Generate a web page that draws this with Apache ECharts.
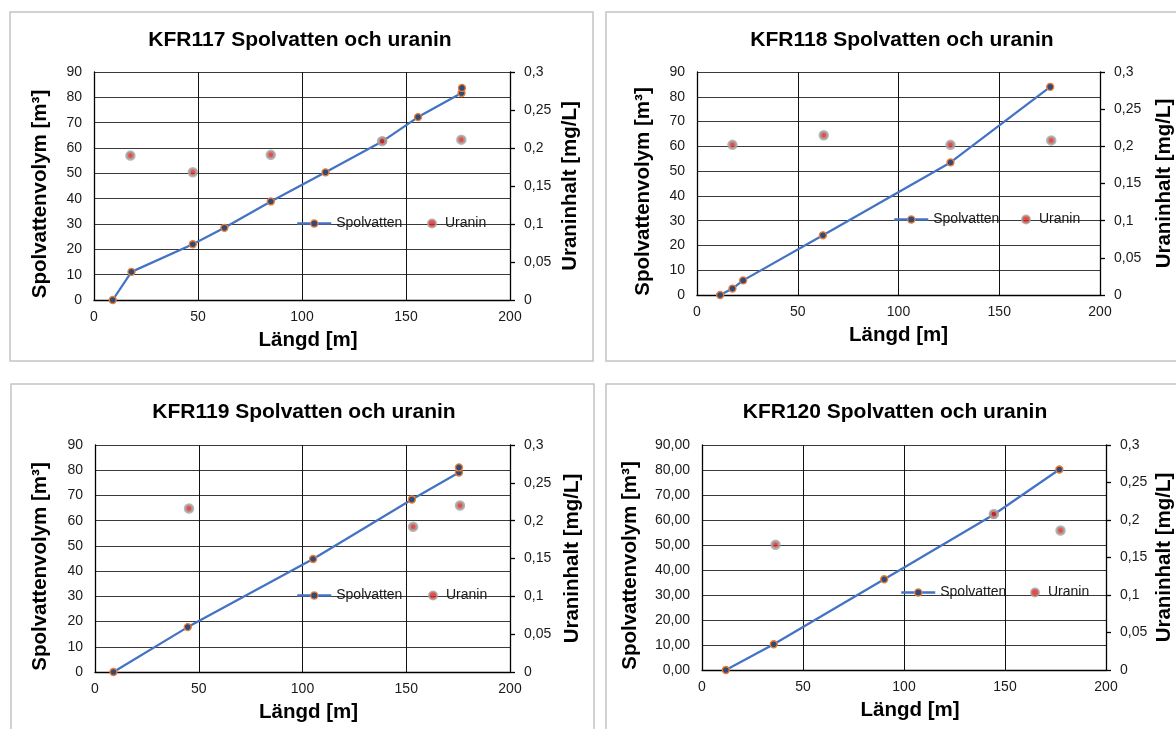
<!DOCTYPE html>
<html><head><meta charset="utf-8">
<script src="https://cdn.jsdelivr.net/npm/echarts@6/dist/echarts.min.js"></script>
<style>html,body{margin:0;padding:0;background:#fff}#c{width:1176px;height:729px}</style>
</head><body><div id="c"></div>
<script>
// ---------- data ----------
const titles = ['KFR117 Spolvatten och uranin', 'KFR118 Spolvatten och uranin', 'KFR119 Spolvatten och uranin', 'KFR120 Spolvatten och uranin'];
const seriesNames = ['Spolvatten', 'Uranin'];
const xAxisName = 'Längd [m]';
const leftAxisName = 'Spolvattenvolym [m³]';
const rightAxisName = 'Uraninhalt [mg/L]';

const spLength117 = [9, 18, 47.5, 62.7, 85, 111.3, 139, 155.8, 176.7, 176.9];
const spVolume117 = [0, 11.1, 22.0, 28.5, 38.9, 50.4, 62.8, 72.2, 81.7, 83.7];
const urLength117 = [17.5, 47.5, 85, 138.5, 176.6];
const urConc117 = [0.190, 0.168, 0.191, 0.209, 0.211];

const spLength118 = [11.5, 17.6, 22.9, 62.5, 125.8, 175.3];
const spVolume118 = [0, 2.6, 5.9, 24.1, 53.5, 84.0];
const urLength118 = [17.6, 62.9, 125.8, 175.8];
const urConc118 = [0.202, 0.215, 0.202, 0.208];

const spLength119 = [8.9, 44.7, 105.1, 152.7, 175.4, 175.4];
const spVolume119 = [0, 17.8, 44.8, 68.4, 79.1, 81.1];
const urLength119 = [45.3, 153.3, 175.9];
const urConc119 = [0.216, 0.192, 0.220];

const spLength120 = [11.8, 35.5, 90.2, 144.3, 176.9];
const spVolume120 = [0, 10.3, 36.3, 62.1, 80.2];
const urLength120 = [36.4, 144.5, 177.5];
const urConc120 = [0.167, 0.208, 0.186];

const xTickRange = [0, 200, 50];
const leftTickRange = [0, 90, 10];
const rightTickRange = [0, 0.3, 0.05];
const leftDecimals = [0, 0, 0, 2];

const panels = [
  {sx: spLength117, sy: spVolume117, ux: urLength117, uy: urConc117},
  {sx: spLength118, sy: spVolume118, ux: urLength118, uy: urConc118},
  {sx: spLength119, sy: spVolume119, ux: urLength119, uy: urConc119},
  {sx: spLength120, sy: spVolume120, ux: urLength120, uy: urConc120}
];

// ---------- layout ----------
const grids = [
  {left: 94, top: 72, width: 416, height: 228},
  {left: 697, top: 72, width: 405, height: 223},
  {left: 95, top: 445, width: 415, height: 227},
  {left: 702, top: 445, width: 409, height: 225}
];
const titlePos = [[300, 40], [902, 40], [304, 412], [895, 412]];
const leftNameGap = [43, 43, 44, 61];
const rightNameGap = [50, 54, 52, 48];
const xNameShift = [12, 0, 12, 12];
const legendSp = [[296, 221], [893, 217], [296, 593], [900, 590]];
const legendUr = [[427, 221], [1021, 217], [428, 593], [1030, 590]];
const frames = [[10, 12, 583, 349], [606, 12, 600, 349], [11, 384, 583, 400], [606, 384, 600, 400]];

const FONT = '"Liberation Sans", Arial, Helvetica, sans-serif';
const comma = (v, d) => (d == null ? String(+(+v).toFixed(3)) : (+v).toFixed(d)).replace('.', ',');

const option = {
  animation: false,
  backgroundColor: '#fff',
  title: [], grid: [], xAxis: [], yAxis: [], series: [], legend: [],
  graphic: frames.map(f => ({
    type: 'rect', silent: true, z: -10,
    shape: {x: f[0], y: f[1], width: f[2], height: f[3]},
    style: {fill: 'none', stroke: '#C4C4C4', lineWidth: 1.5}
  }))
};

const nameStyle = {fontFamily: FONT, fontSize: 20.5, fontWeight: 'bold', color: '#000'};

panels.forEach((p, i) => {
  option.title.push({
    text: titles[i], left: titlePos[i][0] - 5, top: titlePos[i][1] - 5,
    textAlign: 'center', textVerticalAlign: 'middle',
    textStyle: {fontFamily: FONT, fontSize: 21, fontWeight: 'bold', color: '#000'}
  });
  option.grid.push(Object.assign({containLabel: false}, grids[i]));
  option.xAxis.push({
    type: 'value', gridIndex: i, min: xTickRange[0], max: xTickRange[1], interval: xTickRange[2],
    name: xAxisName, nameLocation: 'middle', nameGap: 30,
    nameTextStyle: Object.assign({padding: [0, 0, 0, xNameShift[i]]}, nameStyle),
    axisLine: {show: true, lineStyle: {color: '#000', width: 1.3}},
    axisTick: {show: false},
    axisLabel: {fontFamily: FONT, fontSize: 14, color: '#1a1a1a', margin: 10},
    splitLine: {show: true, lineStyle: {color: '#111', width: 1}}
  });
  option.yAxis.push({
    type: 'value', gridIndex: i, position: 'left',
    min: leftTickRange[0], max: leftTickRange[1], interval: leftTickRange[2],
    name: leftAxisName, nameLocation: 'middle', nameRotate: 90, nameGap: leftNameGap[i],
    nameTextStyle: Object.assign({padding: [0, 16, 0, 0]}, nameStyle),
    axisLine: {show: true, lineStyle: {color: '#000', width: 1.3}},
    axisTick: {show: false},
    axisLabel: {fontFamily: FONT, fontSize: 14, color: '#1a1a1a', margin: 12,
      formatter: v => comma(v, leftDecimals[i] ? leftDecimals[i] : 0)},
    splitLine: {show: true, lineStyle: {color: '#3a3a3a', width: 1}}
  });
  option.yAxis.push({
    type: 'value', gridIndex: i, position: 'right',
    min: rightTickRange[0], max: rightTickRange[1], interval: rightTickRange[2],
    name: rightAxisName, nameLocation: 'middle', nameRotate: 90, nameGap: rightNameGap[i],
    nameTextStyle: nameStyle,
    axisLine: {show: true, lineStyle: {color: '#000', width: 1.3}},
    axisTick: {show: true, inside: false, length: 5, lineStyle: {color: '#000', width: 1.3}},
    axisLabel: {fontFamily: FONT, fontSize: 14, color: '#1a1a1a', margin: 14,
      formatter: v => comma(v)},
    splitLine: {show: false}
  });
  option.series.push({
    name: seriesNames[0], type: 'line', xAxisIndex: i, yAxisIndex: 2 * i,
    data: p.sx.map((x, k) => [x, p.sy[k]]),
    symbol: 'circle', symbolSize: 7, showAllSymbol: true,
    lineStyle: {color: '#4472C4', width: 2.25},
    itemStyle: {color: '#2F4B7C', borderColor: '#ED7D31', borderWidth: 1.3},
    z: 3
  });
  option.series.push({
    name: seriesNames[1], type: 'scatter', xAxisIndex: i, yAxisIndex: 2 * i + 1,
    data: p.ux.map((x, k) => [x, p.uy[k]]),
    symbol: 'circle', symbolSize: 7.5,
    itemStyle: {color: '#E0201B', borderColor: '#A5A5A5', borderWidth: 3},
    z: 4
  });
  option.legend.push({
    data: [seriesNames[0]], left: legendSp[i][0], top: legendSp[i][1] - 4.5, padding: 0,
    itemWidth: 34, itemHeight: 9, selectedMode: false,
    lineStyle: {color: '#4472C4', width: 2.5},
    itemStyle: {color: '#2F4B7C', borderColor: '#ED7D31', borderWidth: 1.3},
    textStyle: {fontFamily: FONT, fontSize: 14, color: '#1a1a1a'}
  });
  option.legend.push({
    data: [seriesNames[1]], left: legendUr[i][0], top: legendUr[i][1] - 4.5, padding: 0,
    itemWidth: 8, itemHeight: 9, selectedMode: false,
    textStyle: {fontFamily: FONT, fontSize: 14, color: '#1a1a1a', padding: [0, 0, 0, 4]}
  });
});

const chart = echarts.init(document.getElementById('c'), null, {renderer: 'canvas'});
chart.setOption(option);
</script>
</body></html>
